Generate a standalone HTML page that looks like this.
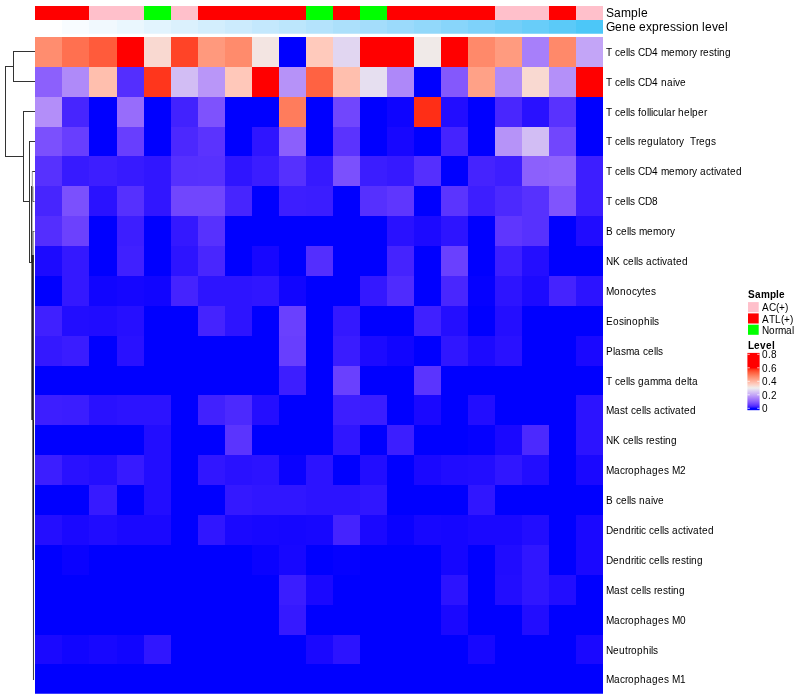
<!DOCTYPE html><html><head><meta charset="utf-8"><title>Heatmap</title><style>
html,body{margin:0;padding:0;background:#fff}body{width:800px;height:700px;overflow:hidden;position:relative;font-family:"Liberation Sans",sans-serif;color:#000}
svg{position:absolute;left:0;top:0}
.rl{font-size:10px}.an{font-size:12px}.lt{font-size:10px;font-weight:bold}.ll{font-size:10px}
</style></head><body>
<svg width="800" height="700" viewBox="0 0 800 700" font-family="Liberation Sans, sans-serif">
<g>
<rect x="35" y="6" width="27" height="14" fill="#FF0000"/>
<rect x="62" y="6" width="27" height="14" fill="#FF0000"/>
<rect x="89" y="6" width="28" height="14" fill="#FFC0CB"/>
<rect x="117" y="6" width="27" height="14" fill="#FFC0CB"/>
<rect x="144" y="6" width="27" height="14" fill="#00FF00"/>
<rect x="171" y="6" width="27" height="14" fill="#FFC0CB"/>
<rect x="198" y="6" width="27" height="14" fill="#FF0000"/>
<rect x="225" y="6" width="27" height="14" fill="#FF0000"/>
<rect x="252" y="6" width="27" height="14" fill="#FF0000"/>
<rect x="279" y="6" width="27" height="14" fill="#FF0000"/>
<rect x="306" y="6" width="27" height="14" fill="#00FF00"/>
<rect x="333" y="6" width="27" height="14" fill="#FF0000"/>
<rect x="360" y="6" width="27" height="14" fill="#00FF00"/>
<rect x="387" y="6" width="27" height="14" fill="#FF0000"/>
<rect x="414" y="6" width="27" height="14" fill="#FF0000"/>
<rect x="441" y="6" width="27" height="14" fill="#FF0000"/>
<rect x="468" y="6" width="27" height="14" fill="#FF0000"/>
<rect x="495" y="6" width="27" height="14" fill="#FFC0CB"/>
<rect x="522" y="6" width="27" height="14" fill="#FFC0CB"/>
<rect x="549" y="6" width="27" height="14" fill="#FF0000"/>
<rect x="576" y="6" width="27" height="14" fill="#FFC0CB"/>
<rect x="35" y="20" width="27" height="13.75" fill="#FFFFFF"/>
<rect x="62" y="20" width="27" height="13.75" fill="#F8FCFF"/>
<rect x="89" y="20" width="28" height="13.75" fill="#F1F9FE"/>
<rect x="117" y="20" width="27" height="13.75" fill="#EAF7FE"/>
<rect x="144" y="20" width="27" height="13.75" fill="#E2F4FE"/>
<rect x="171" y="20" width="27" height="13.75" fill="#DBF1FD"/>
<rect x="198" y="20" width="27" height="13.75" fill="#D3EEFD"/>
<rect x="225" y="20" width="27" height="13.75" fill="#CCEBFD"/>
<rect x="252" y="20" width="27" height="13.75" fill="#C4E8FD"/>
<rect x="279" y="20" width="27" height="13.75" fill="#BCE6FC"/>
<rect x="306" y="20" width="27" height="13.75" fill="#B4E3FC"/>
<rect x="333" y="20" width="27" height="13.75" fill="#ACE0FB"/>
<rect x="360" y="20" width="27" height="13.75" fill="#A4DDFB"/>
<rect x="387" y="20" width="27" height="13.75" fill="#9BDAFB"/>
<rect x="414" y="20" width="27" height="13.75" fill="#92D8FA"/>
<rect x="441" y="20" width="27" height="13.75" fill="#88D5FA"/>
<rect x="468" y="20" width="27" height="13.75" fill="#7ED2FA"/>
<rect x="495" y="20" width="27" height="13.75" fill="#73CFF9"/>
<rect x="522" y="20" width="27" height="13.75" fill="#68CDF9"/>
<rect x="549" y="20" width="27" height="13.75" fill="#5BCAF8"/>
<rect x="576" y="20" width="27" height="13.75" fill="#4CC7F8"/>
<rect x="35" y="37" width="27" height="30" fill="#FF8D6F"/>
<rect x="62" y="37" width="27" height="30" fill="#FF7050"/>
<rect x="89" y="37" width="28" height="30" fill="#FF5B3B"/>
<rect x="117" y="37" width="27" height="30" fill="#FF0000"/>
<rect x="144" y="37" width="27" height="30" fill="#F9D9D1"/>
<rect x="171" y="37" width="27" height="30" fill="#FF4427"/>
<rect x="198" y="37" width="27" height="30" fill="#FF997D"/>
<rect x="225" y="37" width="27" height="30" fill="#FF8B6C"/>
<rect x="252" y="37" width="27" height="30" fill="#F3E5E2"/>
<rect x="279" y="37" width="27" height="30" fill="#0000FF"/>
<rect x="306" y="37" width="27" height="30" fill="#FFCABC"/>
<rect x="333" y="37" width="27" height="30" fill="#E1D6F1"/>
<rect x="360" y="37" width="27" height="30" fill="#FF0000"/>
<rect x="387" y="37" width="27" height="30" fill="#FF0000"/>
<rect x="414" y="37" width="27" height="30" fill="#F0EAE8"/>
<rect x="441" y="37" width="27" height="30" fill="#FF0000"/>
<rect x="468" y="37" width="27" height="30" fill="#FF896A"/>
<rect x="495" y="37" width="27" height="30" fill="#FF9B7F"/>
<rect x="522" y="37" width="27" height="30" fill="#A77FFA"/>
<rect x="549" y="37" width="27" height="30" fill="#FF896A"/>
<rect x="576" y="37" width="27" height="30" fill="#C3A5F7"/>
<rect x="35" y="67" width="27" height="30" fill="#8C60FC"/>
<rect x="62" y="67" width="27" height="30" fill="#AF8AF9"/>
<rect x="89" y="67" width="28" height="30" fill="#FFBFAE"/>
<rect x="117" y="67" width="27" height="30" fill="#542EFE"/>
<rect x="144" y="67" width="27" height="30" fill="#FF361C"/>
<rect x="171" y="67" width="27" height="30" fill="#D2BDF4"/>
<rect x="198" y="67" width="27" height="30" fill="#B996F8"/>
<rect x="225" y="67" width="27" height="30" fill="#FFC8BA"/>
<rect x="252" y="67" width="27" height="30" fill="#FF0000"/>
<rect x="279" y="67" width="27" height="30" fill="#B692F8"/>
<rect x="306" y="67" width="27" height="30" fill="#FF6242"/>
<rect x="333" y="67" width="27" height="30" fill="#FFBFAE"/>
<rect x="360" y="67" width="27" height="30" fill="#E6DFF0"/>
<rect x="387" y="67" width="27" height="30" fill="#AE88F9"/>
<rect x="414" y="67" width="27" height="30" fill="#0000FF"/>
<rect x="441" y="67" width="27" height="30" fill="#8458FC"/>
<rect x="468" y="67" width="27" height="30" fill="#FFA187"/>
<rect x="495" y="67" width="27" height="30" fill="#B08BF9"/>
<rect x="522" y="67" width="27" height="30" fill="#F9D9D1"/>
<rect x="549" y="67" width="27" height="30" fill="#B490F9"/>
<rect x="576" y="67" width="27" height="30" fill="#FF0000"/>
<rect x="35" y="97" width="27" height="30" fill="#B38EF9"/>
<rect x="62" y="97" width="27" height="30" fill="#4725FE"/>
<rect x="89" y="97" width="28" height="30" fill="#0000FF"/>
<rect x="117" y="97" width="27" height="30" fill="#976CFB"/>
<rect x="144" y="97" width="27" height="30" fill="#0000FF"/>
<rect x="171" y="97" width="27" height="30" fill="#4222FE"/>
<rect x="198" y="97" width="27" height="30" fill="#7E52FD"/>
<rect x="225" y="97" width="27" height="30" fill="#0000FF"/>
<rect x="252" y="97" width="27" height="30" fill="#0000FF"/>
<rect x="279" y="97" width="27" height="30" fill="#FF7C5C"/>
<rect x="306" y="97" width="27" height="30" fill="#0000FF"/>
<rect x="333" y="97" width="27" height="30" fill="#7146FD"/>
<rect x="360" y="97" width="27" height="30" fill="#0000FF"/>
<rect x="387" y="97" width="27" height="30" fill="#0E04FF"/>
<rect x="414" y="97" width="27" height="30" fill="#FF2E16"/>
<rect x="441" y="97" width="27" height="30" fill="#220DFF"/>
<rect x="468" y="97" width="27" height="30" fill="#0000FF"/>
<rect x="495" y="97" width="27" height="30" fill="#4926FE"/>
<rect x="522" y="97" width="27" height="30" fill="#2911FF"/>
<rect x="549" y="97" width="27" height="30" fill="#5932FE"/>
<rect x="576" y="97" width="27" height="30" fill="#0000FF"/>
<rect x="35" y="127" width="27" height="29" fill="#7B50FD"/>
<rect x="62" y="127" width="27" height="29" fill="#683EFE"/>
<rect x="89" y="127" width="28" height="29" fill="#0000FF"/>
<rect x="117" y="127" width="27" height="29" fill="#683EFE"/>
<rect x="144" y="127" width="27" height="29" fill="#0000FF"/>
<rect x="171" y="127" width="27" height="29" fill="#4C28FE"/>
<rect x="198" y="127" width="27" height="29" fill="#5B33FE"/>
<rect x="225" y="127" width="27" height="29" fill="#0000FF"/>
<rect x="252" y="127" width="27" height="29" fill="#2F15FF"/>
<rect x="279" y="127" width="27" height="29" fill="#8B5FFC"/>
<rect x="306" y="127" width="27" height="29" fill="#0000FF"/>
<rect x="333" y="127" width="27" height="29" fill="#5B33FE"/>
<rect x="360" y="127" width="27" height="29" fill="#0000FF"/>
<rect x="387" y="127" width="27" height="29" fill="#1707FF"/>
<rect x="414" y="127" width="27" height="29" fill="#0000FF"/>
<rect x="441" y="127" width="27" height="29" fill="#4523FE"/>
<rect x="468" y="127" width="27" height="29" fill="#0000FF"/>
<rect x="495" y="127" width="27" height="29" fill="#B693F8"/>
<rect x="522" y="127" width="27" height="29" fill="#D2BDF4"/>
<rect x="549" y="127" width="27" height="29" fill="#7146FD"/>
<rect x="576" y="127" width="27" height="29" fill="#0000FF"/>
<rect x="35" y="156" width="27" height="30" fill="#5731FE"/>
<rect x="62" y="156" width="27" height="30" fill="#371AFF"/>
<rect x="89" y="156" width="28" height="30" fill="#3D1EFF"/>
<rect x="117" y="156" width="27" height="30" fill="#371AFF"/>
<rect x="144" y="156" width="27" height="30" fill="#3116FF"/>
<rect x="171" y="156" width="27" height="30" fill="#5630FE"/>
<rect x="198" y="156" width="27" height="30" fill="#5731FE"/>
<rect x="225" y="156" width="27" height="30" fill="#2F15FF"/>
<rect x="252" y="156" width="27" height="30" fill="#3B1DFF"/>
<rect x="279" y="156" width="27" height="30" fill="#5630FE"/>
<rect x="306" y="156" width="27" height="30" fill="#3619FF"/>
<rect x="333" y="156" width="27" height="30" fill="#7B50FD"/>
<rect x="360" y="156" width="27" height="30" fill="#3B1DFF"/>
<rect x="387" y="156" width="27" height="30" fill="#3619FF"/>
<rect x="414" y="156" width="27" height="30" fill="#552FFE"/>
<rect x="441" y="156" width="27" height="30" fill="#0000FF"/>
<rect x="468" y="156" width="27" height="30" fill="#4523FE"/>
<rect x="495" y="156" width="27" height="30" fill="#3D1EFF"/>
<rect x="522" y="156" width="27" height="30" fill="#8C60FC"/>
<rect x="549" y="156" width="27" height="30" fill="#8F63FC"/>
<rect x="576" y="156" width="27" height="30" fill="#3D1EFF"/>
<rect x="35" y="186" width="27" height="30" fill="#4725FE"/>
<rect x="62" y="186" width="27" height="30" fill="#7B50FD"/>
<rect x="89" y="186" width="28" height="30" fill="#2A12FF"/>
<rect x="117" y="186" width="27" height="30" fill="#5630FE"/>
<rect x="144" y="186" width="27" height="30" fill="#3116FF"/>
<rect x="171" y="186" width="27" height="30" fill="#7146FD"/>
<rect x="198" y="186" width="27" height="30" fill="#7146FD"/>
<rect x="225" y="186" width="27" height="30" fill="#4725FE"/>
<rect x="252" y="186" width="27" height="30" fill="#0000FF"/>
<rect x="279" y="186" width="27" height="30" fill="#3D1EFF"/>
<rect x="306" y="186" width="27" height="30" fill="#3B1DFF"/>
<rect x="333" y="186" width="27" height="30" fill="#0000FF"/>
<rect x="360" y="186" width="27" height="30" fill="#5630FE"/>
<rect x="387" y="186" width="27" height="30" fill="#5F36FE"/>
<rect x="414" y="186" width="27" height="30" fill="#0000FF"/>
<rect x="441" y="186" width="27" height="30" fill="#5B34FE"/>
<rect x="468" y="186" width="27" height="30" fill="#3D1EFF"/>
<rect x="495" y="186" width="27" height="30" fill="#4C29FE"/>
<rect x="522" y="186" width="27" height="30" fill="#5731FE"/>
<rect x="549" y="186" width="27" height="30" fill="#8054FD"/>
<rect x="576" y="186" width="27" height="30" fill="#3D1EFF"/>
<rect x="35" y="216" width="27" height="30" fill="#542EFE"/>
<rect x="62" y="216" width="27" height="30" fill="#6C41FD"/>
<rect x="89" y="216" width="28" height="30" fill="#0000FF"/>
<rect x="117" y="216" width="27" height="30" fill="#3D1EFF"/>
<rect x="144" y="216" width="27" height="30" fill="#0000FF"/>
<rect x="171" y="216" width="27" height="30" fill="#3418FF"/>
<rect x="198" y="216" width="27" height="30" fill="#5731FE"/>
<rect x="225" y="216" width="27" height="30" fill="#0000FF"/>
<rect x="252" y="216" width="27" height="30" fill="#0000FF"/>
<rect x="279" y="216" width="27" height="30" fill="#0000FF"/>
<rect x="306" y="216" width="27" height="30" fill="#0000FF"/>
<rect x="333" y="216" width="27" height="30" fill="#0000FF"/>
<rect x="360" y="216" width="27" height="30" fill="#0000FF"/>
<rect x="387" y="216" width="27" height="30" fill="#2911FF"/>
<rect x="414" y="216" width="27" height="30" fill="#1C0AFF"/>
<rect x="441" y="216" width="27" height="30" fill="#2D14FF"/>
<rect x="468" y="216" width="27" height="30" fill="#0000FF"/>
<rect x="495" y="216" width="27" height="30" fill="#5F36FE"/>
<rect x="522" y="216" width="27" height="30" fill="#5731FE"/>
<rect x="549" y="216" width="27" height="30" fill="#0000FF"/>
<rect x="576" y="216" width="27" height="30" fill="#200CFF"/>
<rect x="35" y="246" width="27" height="30" fill="#1C0AFF"/>
<rect x="62" y="246" width="27" height="30" fill="#3418FF"/>
<rect x="89" y="246" width="28" height="30" fill="#0000FF"/>
<rect x="117" y="246" width="27" height="30" fill="#4020FF"/>
<rect x="144" y="246" width="27" height="30" fill="#0000FF"/>
<rect x="171" y="246" width="27" height="30" fill="#2D14FF"/>
<rect x="198" y="246" width="27" height="30" fill="#4926FE"/>
<rect x="225" y="246" width="27" height="30" fill="#0000FF"/>
<rect x="252" y="246" width="27" height="30" fill="#1707FF"/>
<rect x="279" y="246" width="27" height="30" fill="#0000FF"/>
<rect x="306" y="246" width="27" height="30" fill="#542EFE"/>
<rect x="333" y="246" width="27" height="30" fill="#0000FF"/>
<rect x="360" y="246" width="27" height="30" fill="#0000FF"/>
<rect x="387" y="246" width="27" height="30" fill="#4523FE"/>
<rect x="414" y="246" width="27" height="30" fill="#0000FF"/>
<rect x="441" y="246" width="27" height="30" fill="#6A40FE"/>
<rect x="468" y="246" width="27" height="30" fill="#0000FF"/>
<rect x="495" y="246" width="27" height="30" fill="#3D1EFF"/>
<rect x="522" y="246" width="27" height="30" fill="#240EFF"/>
<rect x="549" y="246" width="27" height="30" fill="#0000FF"/>
<rect x="576" y="246" width="27" height="30" fill="#0000FF"/>
<rect x="35" y="276" width="27" height="30" fill="#0000FF"/>
<rect x="62" y="276" width="27" height="30" fill="#3418FF"/>
<rect x="89" y="276" width="28" height="30" fill="#1105FF"/>
<rect x="117" y="276" width="27" height="30" fill="#1506FF"/>
<rect x="144" y="276" width="27" height="30" fill="#1105FF"/>
<rect x="171" y="276" width="27" height="30" fill="#4523FE"/>
<rect x="198" y="276" width="27" height="30" fill="#2D14FF"/>
<rect x="225" y="276" width="27" height="30" fill="#2D14FF"/>
<rect x="252" y="276" width="27" height="30" fill="#3016FF"/>
<rect x="279" y="276" width="27" height="30" fill="#1105FF"/>
<rect x="306" y="276" width="27" height="30" fill="#0000FF"/>
<rect x="333" y="276" width="27" height="30" fill="#0000FF"/>
<rect x="360" y="276" width="27" height="30" fill="#3418FF"/>
<rect x="387" y="276" width="27" height="30" fill="#4F2BFE"/>
<rect x="414" y="276" width="27" height="30" fill="#0000FF"/>
<rect x="441" y="276" width="27" height="30" fill="#4926FE"/>
<rect x="468" y="276" width="27" height="30" fill="#0501FF"/>
<rect x="495" y="276" width="27" height="30" fill="#2D14FF"/>
<rect x="522" y="276" width="27" height="30" fill="#1C0AFF"/>
<rect x="549" y="276" width="27" height="30" fill="#4523FE"/>
<rect x="576" y="276" width="27" height="30" fill="#2C13FF"/>
<rect x="35" y="306" width="27" height="30" fill="#4020FF"/>
<rect x="62" y="306" width="27" height="30" fill="#220DFF"/>
<rect x="89" y="306" width="28" height="30" fill="#200CFF"/>
<rect x="117" y="306" width="27" height="30" fill="#260FFF"/>
<rect x="144" y="306" width="27" height="30" fill="#0000FF"/>
<rect x="171" y="306" width="27" height="30" fill="#0000FF"/>
<rect x="198" y="306" width="27" height="30" fill="#4523FE"/>
<rect x="225" y="306" width="27" height="30" fill="#2D14FF"/>
<rect x="252" y="306" width="27" height="30" fill="#0000FF"/>
<rect x="279" y="306" width="27" height="30" fill="#6A40FE"/>
<rect x="306" y="306" width="27" height="30" fill="#0000FF"/>
<rect x="333" y="306" width="27" height="30" fill="#3418FF"/>
<rect x="360" y="306" width="27" height="30" fill="#0000FF"/>
<rect x="387" y="306" width="27" height="30" fill="#0000FF"/>
<rect x="414" y="306" width="27" height="30" fill="#4020FF"/>
<rect x="441" y="306" width="27" height="30" fill="#240EFF"/>
<rect x="468" y="306" width="27" height="30" fill="#0000FF"/>
<rect x="495" y="306" width="27" height="30" fill="#240EFF"/>
<rect x="522" y="306" width="27" height="30" fill="#0000FF"/>
<rect x="549" y="306" width="27" height="30" fill="#0000FF"/>
<rect x="576" y="306" width="27" height="30" fill="#0000FF"/>
<rect x="35" y="336" width="27" height="30" fill="#3418FF"/>
<rect x="62" y="336" width="27" height="30" fill="#3A1CFF"/>
<rect x="89" y="336" width="28" height="30" fill="#0000FF"/>
<rect x="117" y="336" width="27" height="30" fill="#2911FF"/>
<rect x="144" y="336" width="27" height="30" fill="#0000FF"/>
<rect x="171" y="336" width="27" height="30" fill="#0000FF"/>
<rect x="198" y="336" width="27" height="30" fill="#0000FF"/>
<rect x="225" y="336" width="27" height="30" fill="#0000FF"/>
<rect x="252" y="336" width="27" height="30" fill="#0000FF"/>
<rect x="279" y="336" width="27" height="30" fill="#683EFE"/>
<rect x="306" y="336" width="27" height="30" fill="#0000FF"/>
<rect x="333" y="336" width="27" height="30" fill="#3A1CFF"/>
<rect x="360" y="336" width="27" height="30" fill="#1C0AFF"/>
<rect x="387" y="336" width="27" height="30" fill="#1105FF"/>
<rect x="414" y="336" width="27" height="30" fill="#0000FF"/>
<rect x="441" y="336" width="27" height="30" fill="#3016FF"/>
<rect x="468" y="336" width="27" height="30" fill="#1C0AFF"/>
<rect x="495" y="336" width="27" height="30" fill="#2911FF"/>
<rect x="522" y="336" width="27" height="30" fill="#0000FF"/>
<rect x="549" y="336" width="27" height="30" fill="#0000FF"/>
<rect x="576" y="336" width="27" height="30" fill="#1A08FF"/>
<rect x="35" y="366" width="27" height="29" fill="#0000FF"/>
<rect x="62" y="366" width="27" height="29" fill="#0000FF"/>
<rect x="89" y="366" width="28" height="29" fill="#0000FF"/>
<rect x="117" y="366" width="27" height="29" fill="#0000FF"/>
<rect x="144" y="366" width="27" height="29" fill="#0000FF"/>
<rect x="171" y="366" width="27" height="29" fill="#0000FF"/>
<rect x="198" y="366" width="27" height="29" fill="#0000FF"/>
<rect x="225" y="366" width="27" height="29" fill="#0000FF"/>
<rect x="252" y="366" width="27" height="29" fill="#0000FF"/>
<rect x="279" y="366" width="27" height="29" fill="#3D1EFF"/>
<rect x="306" y="366" width="27" height="29" fill="#0000FF"/>
<rect x="333" y="366" width="27" height="29" fill="#6A40FE"/>
<rect x="360" y="366" width="27" height="29" fill="#0000FF"/>
<rect x="387" y="366" width="27" height="29" fill="#0000FF"/>
<rect x="414" y="366" width="27" height="29" fill="#5B34FE"/>
<rect x="441" y="366" width="27" height="29" fill="#0000FF"/>
<rect x="468" y="366" width="27" height="29" fill="#0000FF"/>
<rect x="495" y="366" width="27" height="29" fill="#0000FF"/>
<rect x="522" y="366" width="27" height="29" fill="#0000FF"/>
<rect x="549" y="366" width="27" height="29" fill="#0000FF"/>
<rect x="576" y="366" width="27" height="29" fill="#0000FF"/>
<rect x="35" y="395" width="27" height="30" fill="#3D1EFF"/>
<rect x="62" y="395" width="27" height="30" fill="#3B1DFF"/>
<rect x="89" y="395" width="28" height="30" fill="#2911FF"/>
<rect x="117" y="395" width="27" height="30" fill="#2C13FF"/>
<rect x="144" y="395" width="27" height="30" fill="#2C13FF"/>
<rect x="171" y="395" width="27" height="30" fill="#0000FF"/>
<rect x="198" y="395" width="27" height="30" fill="#4121FE"/>
<rect x="225" y="395" width="27" height="30" fill="#4C29FE"/>
<rect x="252" y="395" width="27" height="30" fill="#240EFF"/>
<rect x="279" y="395" width="27" height="30" fill="#0000FF"/>
<rect x="306" y="395" width="27" height="30" fill="#0000FF"/>
<rect x="333" y="395" width="27" height="30" fill="#3D1EFF"/>
<rect x="360" y="395" width="27" height="30" fill="#3B1DFF"/>
<rect x="387" y="395" width="27" height="30" fill="#0000FF"/>
<rect x="414" y="395" width="27" height="30" fill="#1A08FF"/>
<rect x="441" y="395" width="27" height="30" fill="#0000FF"/>
<rect x="468" y="395" width="27" height="30" fill="#220DFF"/>
<rect x="495" y="395" width="27" height="30" fill="#0000FF"/>
<rect x="522" y="395" width="27" height="30" fill="#0000FF"/>
<rect x="549" y="395" width="27" height="30" fill="#0000FF"/>
<rect x="576" y="395" width="27" height="30" fill="#2C13FF"/>
<rect x="35" y="425" width="27" height="30" fill="#0000FF"/>
<rect x="62" y="425" width="27" height="30" fill="#0000FF"/>
<rect x="89" y="425" width="28" height="30" fill="#0000FF"/>
<rect x="117" y="425" width="27" height="30" fill="#0000FF"/>
<rect x="144" y="425" width="27" height="30" fill="#220DFF"/>
<rect x="171" y="425" width="27" height="30" fill="#0000FF"/>
<rect x="198" y="425" width="27" height="30" fill="#0000FF"/>
<rect x="225" y="425" width="27" height="30" fill="#5B34FE"/>
<rect x="252" y="425" width="27" height="30" fill="#0000FF"/>
<rect x="279" y="425" width="27" height="30" fill="#0000FF"/>
<rect x="306" y="425" width="27" height="30" fill="#0000FF"/>
<rect x="333" y="425" width="27" height="30" fill="#3016FF"/>
<rect x="360" y="425" width="27" height="30" fill="#0000FF"/>
<rect x="387" y="425" width="27" height="30" fill="#3C1EFF"/>
<rect x="414" y="425" width="27" height="30" fill="#0000FF"/>
<rect x="441" y="425" width="27" height="30" fill="#0000FF"/>
<rect x="468" y="425" width="27" height="30" fill="#0501FF"/>
<rect x="495" y="425" width="27" height="30" fill="#1A08FF"/>
<rect x="522" y="425" width="27" height="30" fill="#4C29FE"/>
<rect x="549" y="425" width="27" height="30" fill="#0000FF"/>
<rect x="576" y="425" width="27" height="30" fill="#2C13FF"/>
<rect x="35" y="455" width="27" height="30" fill="#3C1EFF"/>
<rect x="62" y="455" width="27" height="30" fill="#2911FF"/>
<rect x="89" y="455" width="28" height="30" fill="#240EFF"/>
<rect x="117" y="455" width="27" height="30" fill="#371AFF"/>
<rect x="144" y="455" width="27" height="30" fill="#220DFF"/>
<rect x="171" y="455" width="27" height="30" fill="#0000FF"/>
<rect x="198" y="455" width="27" height="30" fill="#3116FF"/>
<rect x="225" y="455" width="27" height="30" fill="#2911FF"/>
<rect x="252" y="455" width="27" height="30" fill="#2C13FF"/>
<rect x="279" y="455" width="27" height="30" fill="#0A02FF"/>
<rect x="306" y="455" width="27" height="30" fill="#2C13FF"/>
<rect x="333" y="455" width="27" height="30" fill="#0000FF"/>
<rect x="360" y="455" width="27" height="30" fill="#220DFF"/>
<rect x="387" y="455" width="27" height="30" fill="#0000FF"/>
<rect x="414" y="455" width="27" height="30" fill="#1A08FF"/>
<rect x="441" y="455" width="27" height="30" fill="#200CFF"/>
<rect x="468" y="455" width="27" height="30" fill="#220DFF"/>
<rect x="495" y="455" width="27" height="30" fill="#3016FF"/>
<rect x="522" y="455" width="27" height="30" fill="#220DFF"/>
<rect x="549" y="455" width="27" height="30" fill="#0000FF"/>
<rect x="576" y="455" width="27" height="30" fill="#1A08FF"/>
<rect x="35" y="485" width="27" height="30" fill="#0000FF"/>
<rect x="62" y="485" width="27" height="30" fill="#0000FF"/>
<rect x="89" y="485" width="28" height="30" fill="#371AFF"/>
<rect x="117" y="485" width="27" height="30" fill="#0000FF"/>
<rect x="144" y="485" width="27" height="30" fill="#220DFF"/>
<rect x="171" y="485" width="27" height="30" fill="#0000FF"/>
<rect x="198" y="485" width="27" height="30" fill="#0000FF"/>
<rect x="225" y="485" width="27" height="30" fill="#3418FF"/>
<rect x="252" y="485" width="27" height="30" fill="#3016FF"/>
<rect x="279" y="485" width="27" height="30" fill="#3016FF"/>
<rect x="306" y="485" width="27" height="30" fill="#2C13FF"/>
<rect x="333" y="485" width="27" height="30" fill="#2C13FF"/>
<rect x="360" y="485" width="27" height="30" fill="#3016FF"/>
<rect x="387" y="485" width="27" height="30" fill="#0000FF"/>
<rect x="414" y="485" width="27" height="30" fill="#0000FF"/>
<rect x="441" y="485" width="27" height="30" fill="#0000FF"/>
<rect x="468" y="485" width="27" height="30" fill="#3016FF"/>
<rect x="495" y="485" width="27" height="30" fill="#0000FF"/>
<rect x="522" y="485" width="27" height="30" fill="#0000FF"/>
<rect x="549" y="485" width="27" height="30" fill="#0000FF"/>
<rect x="576" y="485" width="27" height="30" fill="#0000FF"/>
<rect x="35" y="515" width="27" height="30" fill="#240EFF"/>
<rect x="62" y="515" width="27" height="30" fill="#1A08FF"/>
<rect x="89" y="515" width="28" height="30" fill="#200CFF"/>
<rect x="117" y="515" width="27" height="30" fill="#1A08FF"/>
<rect x="144" y="515" width="27" height="30" fill="#1A08FF"/>
<rect x="171" y="515" width="27" height="30" fill="#0000FF"/>
<rect x="198" y="515" width="27" height="30" fill="#3016FF"/>
<rect x="225" y="515" width="27" height="30" fill="#1A08FF"/>
<rect x="252" y="515" width="27" height="30" fill="#1707FF"/>
<rect x="279" y="515" width="27" height="30" fill="#1506FF"/>
<rect x="306" y="515" width="27" height="30" fill="#1707FF"/>
<rect x="333" y="515" width="27" height="30" fill="#4523FE"/>
<rect x="360" y="515" width="27" height="30" fill="#1A08FF"/>
<rect x="387" y="515" width="27" height="30" fill="#0A02FF"/>
<rect x="414" y="515" width="27" height="30" fill="#1707FF"/>
<rect x="441" y="515" width="27" height="30" fill="#1506FF"/>
<rect x="468" y="515" width="27" height="30" fill="#1A08FF"/>
<rect x="495" y="515" width="27" height="30" fill="#1A08FF"/>
<rect x="522" y="515" width="27" height="30" fill="#220DFF"/>
<rect x="549" y="515" width="27" height="30" fill="#0000FF"/>
<rect x="576" y="515" width="27" height="30" fill="#1A08FF"/>
<rect x="35" y="545" width="27" height="30" fill="#0000FF"/>
<rect x="62" y="545" width="27" height="30" fill="#0A02FF"/>
<rect x="89" y="545" width="28" height="30" fill="#0000FF"/>
<rect x="117" y="545" width="27" height="30" fill="#0000FF"/>
<rect x="144" y="545" width="27" height="30" fill="#0000FF"/>
<rect x="171" y="545" width="27" height="30" fill="#0000FF"/>
<rect x="198" y="545" width="27" height="30" fill="#0000FF"/>
<rect x="225" y="545" width="27" height="30" fill="#0000FF"/>
<rect x="252" y="545" width="27" height="30" fill="#0A02FF"/>
<rect x="279" y="545" width="27" height="30" fill="#1707FF"/>
<rect x="306" y="545" width="27" height="30" fill="#0000FF"/>
<rect x="333" y="545" width="27" height="30" fill="#0501FF"/>
<rect x="360" y="545" width="27" height="30" fill="#0000FF"/>
<rect x="387" y="545" width="27" height="30" fill="#0000FF"/>
<rect x="414" y="545" width="27" height="30" fill="#0000FF"/>
<rect x="441" y="545" width="27" height="30" fill="#1506FF"/>
<rect x="468" y="545" width="27" height="30" fill="#0000FF"/>
<rect x="495" y="545" width="27" height="30" fill="#200CFF"/>
<rect x="522" y="545" width="27" height="30" fill="#3016FF"/>
<rect x="549" y="545" width="27" height="30" fill="#0000FF"/>
<rect x="576" y="545" width="27" height="30" fill="#1A08FF"/>
<rect x="35" y="575" width="27" height="30" fill="#0000FF"/>
<rect x="62" y="575" width="27" height="30" fill="#0000FF"/>
<rect x="89" y="575" width="28" height="30" fill="#0000FF"/>
<rect x="117" y="575" width="27" height="30" fill="#0000FF"/>
<rect x="144" y="575" width="27" height="30" fill="#0000FF"/>
<rect x="171" y="575" width="27" height="30" fill="#0000FF"/>
<rect x="198" y="575" width="27" height="30" fill="#0000FF"/>
<rect x="225" y="575" width="27" height="30" fill="#0000FF"/>
<rect x="252" y="575" width="27" height="30" fill="#0000FF"/>
<rect x="279" y="575" width="27" height="30" fill="#3B1DFF"/>
<rect x="306" y="575" width="27" height="30" fill="#1A08FF"/>
<rect x="333" y="575" width="27" height="30" fill="#0000FF"/>
<rect x="360" y="575" width="27" height="30" fill="#0000FF"/>
<rect x="387" y="575" width="27" height="30" fill="#0000FF"/>
<rect x="414" y="575" width="27" height="30" fill="#0000FF"/>
<rect x="441" y="575" width="27" height="30" fill="#2C13FF"/>
<rect x="468" y="575" width="27" height="30" fill="#0000FF"/>
<rect x="495" y="575" width="27" height="30" fill="#220DFF"/>
<rect x="522" y="575" width="27" height="30" fill="#3016FF"/>
<rect x="549" y="575" width="27" height="30" fill="#220DFF"/>
<rect x="576" y="575" width="27" height="30" fill="#0000FF"/>
<rect x="35" y="605" width="27" height="30" fill="#0000FF"/>
<rect x="62" y="605" width="27" height="30" fill="#0000FF"/>
<rect x="89" y="605" width="28" height="30" fill="#0000FF"/>
<rect x="117" y="605" width="27" height="30" fill="#0000FF"/>
<rect x="144" y="605" width="27" height="30" fill="#0000FF"/>
<rect x="171" y="605" width="27" height="30" fill="#0000FF"/>
<rect x="198" y="605" width="27" height="30" fill="#0000FF"/>
<rect x="225" y="605" width="27" height="30" fill="#0000FF"/>
<rect x="252" y="605" width="27" height="30" fill="#0000FF"/>
<rect x="279" y="605" width="27" height="30" fill="#3619FF"/>
<rect x="306" y="605" width="27" height="30" fill="#0000FF"/>
<rect x="333" y="605" width="27" height="30" fill="#0000FF"/>
<rect x="360" y="605" width="27" height="30" fill="#0000FF"/>
<rect x="387" y="605" width="27" height="30" fill="#0000FF"/>
<rect x="414" y="605" width="27" height="30" fill="#0000FF"/>
<rect x="441" y="605" width="27" height="30" fill="#1A08FF"/>
<rect x="468" y="605" width="27" height="30" fill="#0000FF"/>
<rect x="495" y="605" width="27" height="30" fill="#0000FF"/>
<rect x="522" y="605" width="27" height="30" fill="#220DFF"/>
<rect x="549" y="605" width="27" height="30" fill="#0000FF"/>
<rect x="576" y="605" width="27" height="30" fill="#0000FF"/>
<rect x="35" y="635" width="27" height="29" fill="#1A08FF"/>
<rect x="62" y="635" width="27" height="29" fill="#1105FF"/>
<rect x="89" y="635" width="28" height="29" fill="#1707FF"/>
<rect x="117" y="635" width="27" height="29" fill="#1105FF"/>
<rect x="144" y="635" width="27" height="29" fill="#3016FF"/>
<rect x="171" y="635" width="27" height="29" fill="#0000FF"/>
<rect x="198" y="635" width="27" height="29" fill="#0000FF"/>
<rect x="225" y="635" width="27" height="29" fill="#0000FF"/>
<rect x="252" y="635" width="27" height="29" fill="#0000FF"/>
<rect x="279" y="635" width="27" height="29" fill="#0000FF"/>
<rect x="306" y="635" width="27" height="29" fill="#1A08FF"/>
<rect x="333" y="635" width="27" height="29" fill="#2C13FF"/>
<rect x="360" y="635" width="27" height="29" fill="#0000FF"/>
<rect x="387" y="635" width="27" height="29" fill="#0000FF"/>
<rect x="414" y="635" width="27" height="29" fill="#0000FF"/>
<rect x="441" y="635" width="27" height="29" fill="#0000FF"/>
<rect x="468" y="635" width="27" height="29" fill="#1707FF"/>
<rect x="495" y="635" width="27" height="29" fill="#0000FF"/>
<rect x="522" y="635" width="27" height="29" fill="#0000FF"/>
<rect x="549" y="635" width="27" height="29" fill="#0000FF"/>
<rect x="576" y="635" width="27" height="29" fill="#1A08FF"/>
<rect x="35" y="664" width="27" height="29.75" fill="#0000FF"/>
<rect x="62" y="664" width="27" height="29.75" fill="#0000FF"/>
<rect x="89" y="664" width="28" height="29.75" fill="#0000FF"/>
<rect x="117" y="664" width="27" height="29.75" fill="#0000FF"/>
<rect x="144" y="664" width="27" height="29.75" fill="#0000FF"/>
<rect x="171" y="664" width="27" height="29.75" fill="#0000FF"/>
<rect x="198" y="664" width="27" height="29.75" fill="#0000FF"/>
<rect x="225" y="664" width="27" height="29.75" fill="#0000FF"/>
<rect x="252" y="664" width="27" height="29.75" fill="#0000FF"/>
<rect x="279" y="664" width="27" height="29.75" fill="#0000FF"/>
<rect x="306" y="664" width="27" height="29.75" fill="#0000FF"/>
<rect x="333" y="664" width="27" height="29.75" fill="#0000FF"/>
<rect x="360" y="664" width="27" height="29.75" fill="#0000FF"/>
<rect x="387" y="664" width="27" height="29.75" fill="#0000FF"/>
<rect x="414" y="664" width="27" height="29.75" fill="#0000FF"/>
<rect x="441" y="664" width="27" height="29.75" fill="#0000FF"/>
<rect x="468" y="664" width="27" height="29.75" fill="#0000FF"/>
<rect x="495" y="664" width="27" height="29.75" fill="#0000FF"/>
<rect x="522" y="664" width="27" height="29.75" fill="#0000FF"/>
<rect x="549" y="664" width="27" height="29.75" fill="#0000FF"/>
<rect x="576" y="664" width="27" height="29.75" fill="#0000FF"/>
</g>
<path d="M34.5 51.5 H13.5 V81.5 H34.5 M13.5 66.5 H5.5 V156.5 H23.5 M34.5 111.5 H23.5 V201.5 H29.5 M34.5 141.5 H29.5 V262.5 H32.5 M34.5 171.5 H31.5" fill="none" stroke="#333" stroke-width="1" shape-rendering="crispEdges"/>
<path d="M32.3 171.5 V186" fill="none" stroke="#999" stroke-width="1"/>
<path d="M32.9 186.5 V201.5 H34.5 M32.5 231.5 H34.5" fill="none" stroke="#444" stroke-width="0.8"/>
<path d="M31.7 186 V262.5" fill="none" stroke="#222" stroke-width="1.2"/>
<path d="M33 232 V262" fill="none" stroke="#555" stroke-width="1"/>
<path d="M32.6 255 V420" fill="none" stroke="#222" stroke-width="2.5"/>
<path d="M33.2 420 V560" fill="none" stroke="#222" stroke-width="1.7"/>
<path d="M33.5 560 V680" fill="none" stroke="#444" stroke-width="1.1"/>
<text x="606 614 621 631 638 641" y="17" font-size="12" xml:space="preserve">Sample</text>
<text x="606 615 622 629 636 639 646 652 659 663 670 676 682 685 692 699 702 705 712 718 725" y="31" font-size="12" xml:space="preserve">Gene expression level</text>
<text x="606 612 615 620 626 628 630 635 638 645 652 658 661 669 675 683 689 692 697 700 703 709 714 717 719 725" y="56" font-size="10" xml:space="preserve">T cells CD4 memory resting</text>
<text x="606 612 615 620 626 628 630 635 638 645 652 658 661 667 673 675 680" y="86" font-size="10" xml:space="preserve">T cells CD4 naive</text>
<text x="606 612 615 620 626 628 630 635 638 641 647 649 651 653 658 664 666 672 675 678 684 690 692 698 704" y="116" font-size="10" xml:space="preserve">T cells follicular helper</text>
<text x="606 612 615 620 626 628 630 635 638 641 647 653 659 661 667 670 676 679 684 687 690 696 699 705 711" y="145" font-size="10" xml:space="preserve">T cells regulatory  Tregs</text>
<text x="606 612 615 620 626 628 630 635 638 645 652 658 661 669 675 683 689 692 697 700 706 711 714 716 721 727 730 736" y="175" font-size="10" xml:space="preserve">T cells CD4 memory activated</text>
<text x="606 612 615 620 626 628 630 635 638 645 652" y="205" font-size="10" xml:space="preserve">T cells CD8</text>
<text x="606 613 616 621 627 629 631 636 639 647 653 661 667 670" y="235" font-size="10" xml:space="preserve">B cells memory</text>
<text x="606 613 620 623 628 634 636 638 643 646 652 657 660 662 667 673 676 682" y="265" font-size="10" xml:space="preserve">NK cells activated</text>
<text x="606 614 620 626 632 637 642 645 651" y="295" font-size="10" xml:space="preserve">Monocytes</text>
<text x="606 613 619 624 626 632 638 644 650 652 654" y="325" font-size="10" xml:space="preserve">Eosinophils</text>
<text x="606 613 615 621 626 634 640 643 648 654 656 658" y="355" font-size="10" xml:space="preserve">Plasma cells</text>
<text x="606 612 615 620 626 628 630 635 638 644 650 658 666 672 675 681 687 689 692" y="385" font-size="10" xml:space="preserve">T cells gamma delta</text>
<text x="606 614 620 625 628 631 636 642 644 646 651 654 660 665 668 670 675 681 684 690" y="414" font-size="10" xml:space="preserve">Mast cells activated</text>
<text x="606 613 620 623 628 634 636 638 643 646 649 655 660 663 665 671" y="444" font-size="10" xml:space="preserve">NK cells resting</text>
<text x="606 614 620 625 628 634 640 646 652 658 664 669 672 680" y="474" font-size="10" xml:space="preserve">Macrophages M2</text>
<text x="606 613 616 621 627 629 631 636 639 645 651 653 658" y="504" font-size="10" xml:space="preserve">B cells naive</text>
<text x="606 613 619 625 631 634 636 639 641 646 649 654 660 662 664 669 672 678 683 686 688 693 699 702 708" y="534" font-size="10" xml:space="preserve">Dendritic cells activated</text>
<text x="606 613 619 625 631 634 636 639 641 646 649 654 660 662 664 669 672 675 681 686 689 691 697" y="564" font-size="10" xml:space="preserve">Dendritic cells resting</text>
<text x="606 614 620 625 628 631 636 642 644 646 651 654 657 663 668 671 673 679" y="594" font-size="10" xml:space="preserve">Mast cells resting</text>
<text x="606 614 620 625 628 634 640 646 652 658 664 669 672 680" y="624" font-size="10" xml:space="preserve">Macrophages M0</text>
<text x="606 613 619 625 628 631 637 643 649 651 653" y="654" font-size="10" xml:space="preserve">Neutrophils</text>
<text x="606 614 620 625 628 634 640 646 652 658 664 669 672 680" y="683" font-size="10" xml:space="preserve">Macrophages M1</text>
<text x="748 755 761 770 776 779" y="298" font-size="10" font-weight="bold" xml:space="preserve">Sample</text>
<rect x="748" y="302.1" width="10.7" height="10.1" fill="#FFC0CB"/>
<text x="762 769 776 779 785" y="311" font-size="10" xml:space="preserve">AC(+)</text>
<rect x="748" y="313.4" width="10.7" height="10.1" fill="#FF0000"/>
<text x="762 769 775 781 784 790" y="323" font-size="10" xml:space="preserve">ATL(+)</text>
<rect x="748" y="324.7" width="10.7" height="10.1" fill="#00FF00"/>
<text x="762 769 775 778 786 792" y="334" font-size="10" xml:space="preserve">Normal</text>
<text x="748 754 760 766 772" y="349" font-size="10" font-weight="bold" xml:space="preserve">Level</text>
<defs><linearGradient id="lg" x1="0" y1="0" x2="0" y2="1">
<stop offset="0.0000" stop-color="#FF0000"/>
<stop offset="0.0244" stop-color="#FF0000"/>
<stop offset="0.0480" stop-color="#FF0000"/>
<stop offset="0.0716" stop-color="#FF0000"/>
<stop offset="0.0951" stop-color="#FF0000"/>
<stop offset="0.1187" stop-color="#FF0000"/>
<stop offset="0.1422" stop-color="#FF0000"/>
<stop offset="0.1658" stop-color="#FF0000"/>
<stop offset="0.1894" stop-color="#FF0000"/>
<stop offset="0.2129" stop-color="#FF0000"/>
<stop offset="0.2365" stop-color="#FF0000"/>
<stop offset="0.2600" stop-color="#FF0000"/>
<stop offset="0.2836" stop-color="#FF2F17"/>
<stop offset="0.3072" stop-color="#FF4628"/>
<stop offset="0.3307" stop-color="#FF5837"/>
<stop offset="0.3543" stop-color="#FF6746"/>
<stop offset="0.3778" stop-color="#FF7555"/>
<stop offset="0.4014" stop-color="#FF8364"/>
<stop offset="0.4250" stop-color="#FF9072"/>
<stop offset="0.4485" stop-color="#FF9C81"/>
<stop offset="0.4721" stop-color="#FFA890"/>
<stop offset="0.4956" stop-color="#FFB49F"/>
<stop offset="0.5192" stop-color="#FFC0AF"/>
<stop offset="0.5428" stop-color="#FECCBE"/>
<stop offset="0.5663" stop-color="#FAD7CE"/>
<stop offset="0.5899" stop-color="#F5E3DE"/>
<stop offset="0.6134" stop-color="#EEEEEE"/>
<stop offset="0.6370" stop-color="#E6E0F0"/>
<stop offset="0.6606" stop-color="#DED1F2"/>
<stop offset="0.6841" stop-color="#D6C3F4"/>
<stop offset="0.7077" stop-color="#CDB5F5"/>
<stop offset="0.7312" stop-color="#C4A7F7"/>
<stop offset="0.7548" stop-color="#BA99F8"/>
<stop offset="0.7784" stop-color="#B08AF9"/>
<stop offset="0.8019" stop-color="#A57CFA"/>
<stop offset="0.8255" stop-color="#996EFB"/>
<stop offset="0.8490" stop-color="#8C60FC"/>
<stop offset="0.8726" stop-color="#7D51FD"/>
<stop offset="0.8962" stop-color="#6D42FD"/>
<stop offset="0.9197" stop-color="#5932FE"/>
<stop offset="0.9433" stop-color="#3F1FFF"/>
<stop offset="0.9668" stop-color="#0000FF"/>
<stop offset="1.0000" stop-color="#0000FF"/>
</linearGradient></defs>
<rect x="747.4" y="352.9" width="12.2" height="57.3" fill="url(#lg)"/>
<path d="M747.4 354.3 h2.4 M759.6 354.3 h-2.4" stroke="#fff" stroke-width="0.75"/>
<text x="762 768 771" y="358" font-size="10" xml:space="preserve">0.8</text>
<path d="M747.4 367.8 h2.4 M759.6 367.8 h-2.4" stroke="#fff" stroke-width="0.75"/>
<text x="762 768 771" y="372" font-size="10" xml:space="preserve">0.6</text>
<path d="M747.4 381.3 h2.4 M759.6 381.3 h-2.4" stroke="#fff" stroke-width="0.75"/>
<text x="762 768 771" y="385" font-size="10" xml:space="preserve">0.4</text>
<path d="M747.4 394.8 h2.4 M759.6 394.8 h-2.4" stroke="#fff" stroke-width="0.75"/>
<text x="762 768 771" y="399" font-size="10" xml:space="preserve">0.2</text>
<path d="M747.4 408.3 h2.4 M759.6 408.3 h-2.4" stroke="#fff" stroke-width="0.75"/>
<text x="762" y="412" font-size="10" xml:space="preserve">0</text>
</svg></body></html>
